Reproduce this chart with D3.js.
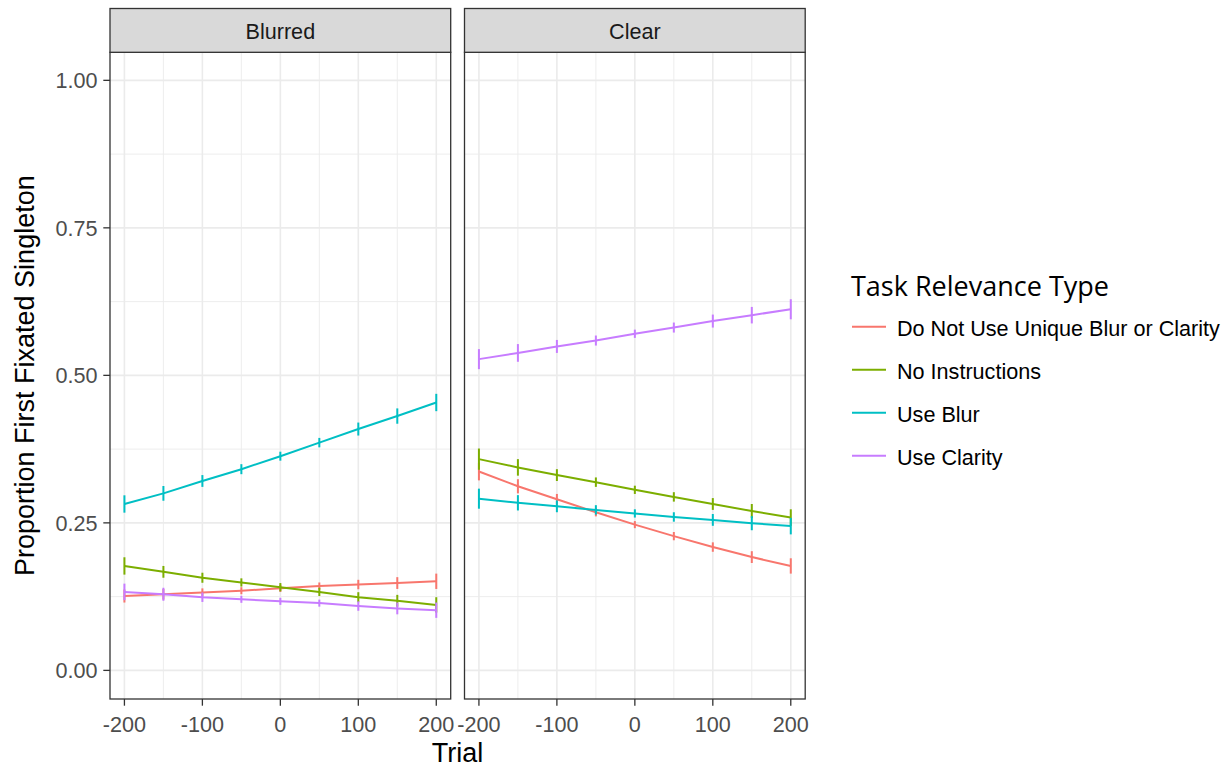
<!DOCTYPE html>
<html><head><meta charset="utf-8">
<script src="https://cdn.jsdelivr.net/npm/d3@7"></script>
<style>body{margin:0;background:#fff}svg{display:block}</style>
</head><body><svg id="c" width="1227" height="767"></svg>
<script>
const trials = [-200,-150,-100,-50,0,50,100,150,200];
const facets = ["Blurred","Clear"];
const groups = ["Do Not Use Unique Blur or Clarity","No Instructions","Use Blur","Use Clarity"];
const groupColors = ["#F8766D","#7CAE00","#00BFC4","#C77CFF"];
const xTicks = [-200,-100,0,100,200];
const xMinor = [-150,-50,50,150];
const yTicks = [0,0.25,0.5,0.75,1.0];
const yTickLabels = ["0.00","0.25","0.50","0.75","1.00"];
const yMinor = [0.125,0.375,0.625,0.875];

// means
const blurredDoNotUse   = [0.126,0.129,0.132,0.135,0.139,0.143,0.1455,0.148,0.151];
const blurredNoInstr    = [0.177,0.167,0.157,0.149,0.141,0.133,0.124,0.118,0.111];
const blurredUseBlur    = [0.282,0.300,0.321,0.341,0.363,0.386,0.409,0.431,0.454];
const blurredUseClarity = [0.133,0.129,0.124,0.1205,0.117,0.114,0.109,0.105,0.102];
const clearDoNotUse     = [0.337,0.312,0.290,0.268,0.247,0.2275,0.209,0.192,0.177];
const clearNoInstr      = [0.358,0.344,0.331,0.319,0.306,0.294,0.282,0.270,0.259];
const clearUseBlur      = [0.291,0.284,0.278,0.272,0.266,0.260,0.255,0.2495,0.2445];
const clearUseClarity   = [0.5275,0.538,0.549,0.559,0.5705,0.581,0.592,0.602,0.612];
// error half-widths
const blurredDoNotUseErr   = [0.011,0.009,0.007,0.006,0.006,0.006,0.008,0.010,0.013];
const blurredNoInstrErr    = [0.0147,0.010,0.0085,0.007,0.007,0.007,0.0085,0.010,0.013];
const blurredUseBlurErr    = [0.0147,0.0125,0.010,0.0085,0.0076,0.008,0.011,0.013,0.0147];
const blurredUseClarityErr = [0.014,0.011,0.008,0.006,0.006,0.006,0.008,0.010,0.013];
const clearDoNotUseErr     = [0.015,0.012,0.009,0.007,0.006,0.007,0.008,0.010,0.013];
const clearNoInstrErr      = [0.018,0.014,0.010,0.008,0.007,0.008,0.010,0.012,0.014];
const clearUseBlurErr      = [0.017,0.013,0.010,0.008,0.007,0.008,0.010,0.012,0.014];
const clearUseClarityErr   = [0.017,0.015,0.011,0.0085,0.007,0.0085,0.011,0.014,0.017];

const panelData = [
  {facet: facets[0], series: [
    {g:0, v:blurredDoNotUse, e:blurredDoNotUseErr},
    {g:1, v:blurredNoInstr, e:blurredNoInstrErr},
    {g:2, v:blurredUseBlur, e:blurredUseBlurErr},
    {g:3, v:blurredUseClarity, e:blurredUseClarityErr}]},
  {facet: facets[1], series: [
    {g:0, v:clearDoNotUse, e:clearDoNotUseErr},
    {g:1, v:clearNoInstr, e:clearNoInstrErr},
    {g:2, v:clearUseBlur, e:clearUseBlurErr},
    {g:3, v:clearUseClarity, e:clearUseClarityErr}]}
];

const svg = d3.select("#c");
const FONT = "'Liberation Sans', Arial, sans-serif";
const panelTop = 52.3, panelBottom = 699, panelW = 340.7;
const panelLefts = [110, 464.5];
const stripTop = 8.5;

const y = d3.scaleLinear().domain([-0.0485, 1.0475]).range([panelBottom, panelTop]);

panelData.forEach((pd, pi) => {
  const x0 = panelLefts[pi];
  const x = d3.scaleLinear().domain([-218.5, 218.5]).range([x0, x0 + panelW]);
  const g = svg.append("g");
  // background
  g.append("rect").attr("x", x0).attr("y", panelTop).attr("width", panelW).attr("height", panelBottom - panelTop).attr("fill", "#fff");
  // minor grid
  g.selectAll(".ymn").data(yMinor).join("line").attr("x1", x0).attr("x2", x0 + panelW)
    .attr("y1", d => y(d)).attr("y2", d => y(d)).attr("stroke", "#EBEBEB").attr("stroke-width", 0.9);
  g.selectAll(".xmn").data(xMinor).join("line").attr("y1", panelTop).attr("y2", panelBottom)
    .attr("x1", d => x(d)).attr("x2", d => x(d)).attr("stroke", "#EBEBEB").attr("stroke-width", 0.9);
  // major grid
  g.selectAll(".ymj").data(yTicks).join("line").attr("x1", x0).attr("x2", x0 + panelW)
    .attr("y1", d => y(d)).attr("y2", d => y(d)).attr("stroke", "#EBEBEB").attr("stroke-width", 1.6);
  g.selectAll(".xmj").data(xTicks).join("line").attr("y1", panelTop).attr("y2", panelBottom)
    .attr("x1", d => x(d)).attr("x2", d => x(d)).attr("stroke", "#EBEBEB").attr("stroke-width", 1.6);

  // series
  const line = d3.line().x(d => x(d[0])).y(d => y(d[1]));
  pd.series.forEach(s => {
    const col = groupColors[s.g];
    const pts = trials.map((t, i) => [t, s.v[i], s.e[i]]);
    g.append("path").attr("d", line(pts)).attr("fill", "none").attr("stroke", col).attr("stroke-width", 2);
    g.selectAll(null).data(pts).join("line")
      .attr("x1", d => x(d[0])).attr("x2", d => x(d[0]))
      .attr("y1", d => y(d[1] - d[2])).attr("y2", d => y(d[1] + d[2]))
      .attr("stroke", col).attr("stroke-width", 2);
  });

  // border
  g.append("rect").attr("x", x0).attr("y", panelTop).attr("width", panelW).attr("height", panelBottom - panelTop)
    .attr("fill", "none").attr("stroke", "#333333").attr("stroke-width", 1.3);
  // strip
  g.append("rect").attr("x", x0).attr("y", stripTop).attr("width", panelW).attr("height", panelTop - stripTop)
    .attr("fill", "#D9D9D9").attr("stroke", "#333333").attr("stroke-width", 1.3);
  g.append("text").attr("x", x0 + panelW / 2).attr("y", 39.3).attr("text-anchor", "middle")
    .attr("font-family", FONT).attr("font-size", 21.6).attr("fill", "#1A1A1A").text(pd.facet);

  // x axis ticks
  g.selectAll(".xt").data(xTicks).join("line").attr("x1", d => x(d)).attr("x2", d => x(d))
    .attr("y1", panelBottom).attr("y2", panelBottom + 6.7).attr("stroke", "#333333").attr("stroke-width", 1.3);
  g.selectAll(".xl").data(xTicks).join("text").attr("x", d => x(d)).attr("y", 731.5)
    .attr("text-anchor", "middle").attr("font-family", FONT).attr("font-size", 21.6).attr("fill", "#4D4D4D")
    .text(d => d3.format("d")(d).replace("−", "-"));

  if (pi === 0) {
    g.selectAll(".yt").data(yTicks).join("line").attr("x1", x0 - 6.7).attr("x2", x0)
      .attr("y1", d => y(d)).attr("y2", d => y(d)).attr("stroke", "#333333").attr("stroke-width", 1.3);
    g.selectAll(".yl").data(yTicks).join("text").attr("x", 97.5).attr("y", d => y(d) + 7.8)
      .attr("text-anchor", "end").attr("font-family", FONT).attr("font-size", 21.6).attr("fill", "#4D4D4D")
      .text((d, i) => yTickLabels[i]);
  }
});

// axis titles
svg.append("text").attr("x", (110 + 464.5 + panelW) / 2).attr("y", 762).attr("text-anchor", "middle")
  .attr("font-family", FONT).attr("font-size", 27).attr("fill", "#000").text("Trial");
svg.append("text").attr("transform", `translate(34,${(panelTop + panelBottom) / 2}) rotate(-90)`)
  .attr("text-anchor", "middle").attr("font-family", FONT).attr("font-size", 27).attr("fill", "#000")
  .text("Proportion First Fixated Singleton");

// legend
const lg = svg.append("g");
lg.append("text").attr("x", 851).attr("y", 296).attr("font-family", "'Open Sans', sans-serif")
  .attr("font-size", 27).attr("fill", "#000").text("Task Relevance Type");
groups.forEach((name, i) => {
  const ky = 326.7 + i * 43;
  lg.append("line").attr("x1", 852).attr("x2", 886).attr("y1", ky).attr("y2", ky)
    .attr("stroke", groupColors[i]).attr("stroke-width", 2);
  lg.append("text").attr("x", 897).attr("y", ky + 9.3).attr("font-family", FONT)
    .attr("font-size", 21.6).attr("fill", "#000").text(name);
});
</script></body></html>
